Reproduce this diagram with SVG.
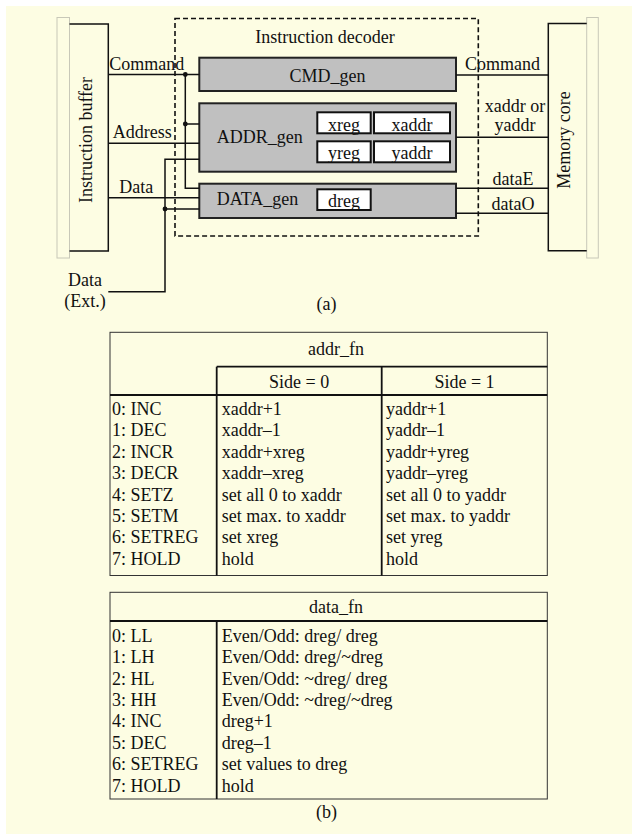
<svg xmlns="http://www.w3.org/2000/svg" width="632" height="834" viewBox="0 0 632 834">
<style>
text{font-family:"Liberation Serif","Times New Roman",serif;font-size:18px;fill:#111}
.m{text-anchor:middle}
.gen{fill:#c0c0c0;stroke:#222;stroke-width:2}
.reg{fill:#fff;stroke:#111;stroke-width:2}
.w{fill:none;stroke:#111;stroke-width:1.5}
.thin{fill:none;stroke:#333;stroke-width:1}
.div{fill:none;stroke:#111;stroke-width:1.8}
.dot{fill:#111}
</style>
<rect x="0" y="0" width="632" height="834" fill="#fff"/>
<rect x="6" y="6" width="626" height="828" fill="#fdfde3"/>

<g id="instruction-buffer">
<rect x="57" y="17.5" width="12.5" height="240.5" fill="#fdfde3" stroke="#c8c8b8" stroke-width="1"/>
<path class="w" d="M69.5,24 H108.3 V251 H69.5"/>
<text class="m" transform="translate(92,140) rotate(-90)">Instruction buffer</text>
</g>

<g id="memory-core">
<rect x="586.7" y="17.5" width="11.6" height="240.5" fill="#fdfde3" stroke="#c8c8b8" stroke-width="1"/>
<path class="w" d="M586.7,23.5 H548.3 V250.7 H586.7"/>
<text class="m" transform="translate(570,140) rotate(-90)">Memory core</text>
</g>

<g id="instruction-decoder">
<rect x="175" y="18.5" width="303.3" height="217.5" fill="none" stroke="#111" stroke-width="1.6" stroke-dasharray="5,3"/>
<text class="m" x="325" y="43">Instruction decoder</text>
</g>

<g id="cmd-gen">
<rect class="gen" x="199.3" y="57.7" width="256.7" height="33.3"/>
<text class="m" x="327.5" y="81.5">CMD_gen</text>
</g>

<g id="addr-gen">
<rect class="gen" x="199.3" y="103.3" width="256.7" height="68.4"/>
<text x="216.7" y="143.3">ADDR_gen</text>
<rect class="reg" x="317.3" y="112.3" width="53.4" height="21"/>
<text class="m" x="344" y="130.5">xreg</text>
<rect class="reg" x="374" y="112.3" width="76" height="21"/>
<text class="m" x="412" y="130.5">xaddr</text>
<rect class="reg" x="317.3" y="141.3" width="53.4" height="21"/>
<text class="m" x="344" y="158.5">yreg</text>
<rect class="reg" x="374" y="141.3" width="76" height="21"/>
<text class="m" x="412" y="158.5">yaddr</text>
</g>

<g id="data-gen">
<rect class="gen" x="199.3" y="183.7" width="256.7" height="34.3"/>
<text x="216.7" y="205">DATA_gen</text>
<rect class="reg" x="317.3" y="189.3" width="53.4" height="20.7"/>
<text class="m" x="344" y="206.5">dreg</text>
</g>

<g id="connectors">
<path class="w" d="M108.3,74.5 H199.3"/>
<path class="w" d="M185.3,74.5 V188.3 H199.3"/>
<path class="w" d="M185.3,124 H199.3"/>
<path class="w" d="M108.3,143.3 H199.3"/>
<path class="w" d="M108.3,197.7 H199.3"/>
<path class="w" d="M108.3,291.7 H165 V159.3 H199.3"/>
<path class="w" d="M165,209 H199.3"/>
<circle class="dot" cx="185.3" cy="74.5" r="2.4"/>
<circle class="dot" cx="185.3" cy="124" r="2.4"/>
<circle class="dot" cx="165" cy="209" r="2.4"/>
<path class="w" d="M456,75 H548.3"/>
<path class="w" d="M456,137.3 H548.3"/>
<path class="w" d="M456,188.3 H548.3"/>
<path class="w" d="M456,213.3 H548.3"/>
<text x="109.3" y="70">Command</text>
<text x="112.7" y="137.5">Address</text>
<text x="119.3" y="192.7">Data</text>
<text class="m" x="85" y="285.7">Data</text>
<text class="m" x="85" y="306.7">(Ext.)</text>
<text x="465" y="70">Command</text>
<text class="m" x="515" y="111.5">xaddr or</text>
<text class="m" x="515" y="131">yaddr</text>
<text class="m" x="513" y="185">dataE</text>
<text class="m" x="513" y="210">dataO</text>
</g>
<text class="m" x="326.5" y="310">(a)</text>

<g id="addr-fn-table">
<rect class="thin" x="110" y="332.3" width="437.3" height="243.2"/>
<path class="div" d="M216.7,366.7 H547.3"/>
<path class="div" d="M110,395 H547.3" stroke-width="2.2"/>
<path class="div" d="M216.7,366.7 V575.5"/>
<path class="div" d="M381.7,366.7 V575.5"/>
<text class="m" x="336" y="355">addr_fn</text>
<text class="m" x="299.2" y="388.3">Side = 0</text>
<text class="m" x="464.5" y="388.3">Side = 1</text>
<text x="112" y="415">0: INC</text>
<text x="112" y="436.4">1: DEC</text>
<text x="112" y="457.8">2: INCR</text>
<text x="112" y="479.2">3: DECR</text>
<text x="112" y="500.6">4: SETZ</text>
<text x="112" y="522">5: SETM</text>
<text x="112" y="543.4">6: SETREG</text>
<text x="112" y="564.8">7: HOLD</text>
<text x="221.7" y="415">xaddr+1</text>
<text x="221.7" y="436.4">xaddr–1</text>
<text x="221.7" y="457.8">xaddr+xreg</text>
<text x="221.7" y="479.2">xaddr–xreg</text>
<text x="221.7" y="500.6">set all 0 to xaddr</text>
<text x="221.7" y="522">set max. to xaddr</text>
<text x="221.7" y="543.4">set xreg</text>
<text x="221.7" y="564.8">hold</text>
<text x="386" y="415">yaddr+1</text>
<text x="386" y="436.4">yaddr–1</text>
<text x="386" y="457.8">yaddr+yreg</text>
<text x="386" y="479.2">yaddr–yreg</text>
<text x="386" y="500.6">set all 0 to yaddr</text>
<text x="386" y="522">set max. to yaddr</text>
<text x="386" y="543.4">set yreg</text>
<text x="386" y="564.8">hold</text>
</g>

<g id="data-fn-table">
<rect class="thin" x="110" y="592.3" width="437.3" height="206.7"/>
<path class="div" d="M110,621 H547.3" stroke-width="2.2"/>
<path class="div" d="M216.7,621 V799"/>
<text class="m" x="336" y="613.3">data_fn</text>
<text x="112" y="641.7">0: LL</text>
<text x="112" y="663.1">1: LH</text>
<text x="112" y="684.5">2: HL</text>
<text x="112" y="705.9">3: HH</text>
<text x="112" y="727.3">4: INC</text>
<text x="112" y="748.7">5: DEC</text>
<text x="112" y="770.1">6: SETREG</text>
<text x="112" y="791.5">7: HOLD</text>
<text x="221.7" y="641.7">Even/Odd: dreg/ dreg</text>
<text x="221.7" y="663.1">Even/Odd: dreg/~dreg</text>
<text x="221.7" y="684.5">Even/Odd: ~dreg/ dreg</text>
<text x="221.7" y="705.9">Even/Odd: ~dreg/~dreg</text>
<text x="221.7" y="727.3">dreg+1</text>
<text x="221.7" y="748.7">dreg–1</text>
<text x="221.7" y="770.1">set values to dreg</text>
<text x="221.7" y="791.5">hold</text>
</g>
<text class="m" x="326.5" y="818.3">(b)</text>
</svg>
